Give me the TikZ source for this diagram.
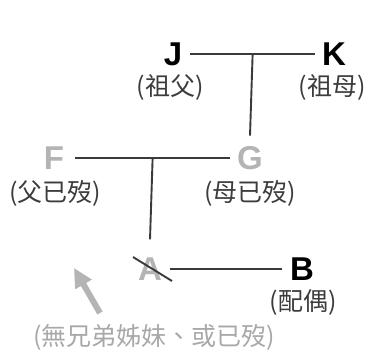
\documentclass[tikz,border=0pt]{standalone}
\usepackage{fontspec}
\setmainfont{Liberation Sans}
\newfontfamily\cjk{Noto Sans CJK TC}
\usepackage{tikz}
\usetikzlibrary{arrows.meta}
\definecolor{linegray}{HTML}{3A3A3A}
\definecolor{deadgray}{HTML}{B4B4B4}
\definecolor{notegray}{HTML}{A8A8A8}
\definecolor{labgray}{HTML}{3C3C3C}

\begin{document}
\begin{tikzpicture}[x=1pt, y=-1pt,
   person/.style = {inner sep=0pt, font=\fontsize{33}{33}\selectfont\bfseries},
   dead/.style = {person, text=deadgray},
   relname/.style = {inner sep=0pt, text=labgray, font=\fontsize{25}{25}\selectfont\cjk},
   kin/.style = {draw=linegray, line width=1.9pt}]
   \useasboundingbox (0,0) rectangle (369,350);
   % grandparents
   \node[person] (J) at (173,54) {J};
   \node[person] (K) at (334,54) {K};
   \node[relname] (Jlab) at (170,87) {(祖父)};
   \node[relname] (Klab) at (332,87) {(祖母)};
   % parents
   \node[dead] (F) at (54,158) {F};
   \node[dead] (G) at (250,158) {G};
   \node[relname] (Flab) at (55,193) {(父已歿)};
   \node[relname] (Glab) at (250,193) {(母已歿)};
   % self and spouse
   \node[dead] (A) at (150,269) {A};
   \node[person] (B) at (302,269) {B};
   \node[relname] (Blab) at (303,302) {(配偶)};
   \node[relname, text=notegray] (note) at (154,337) {(無兄弟姊妹、或已歿)};
   \coordinate (tail) at (100,313);
   \coordinate (tip) at (74,268);

   \draw[kin] ([xshift=8pt]J.east) -- coordinate (JK) ([xshift=-7pt]K.west);
   \draw[kin] (JK) -- ([yshift=10.5pt]G.north);
   \draw[kin] ([xshift=11pt]F.east) -- coordinate (FG) ([xshift=-7pt]G.west);
   \draw[kin] (FG) -- ([yshift=18pt]A.north);
   \draw[kin] ([xshift=8pt]A.east) -- ([xshift=-8pt]B.west);
   \draw[kin] ([shift={(-17,-12)}]A.center) -- ([shift={(22,12)}]A.center);
   \draw[draw=deadgray, line width=6pt, -{Triangle[length=19pt, width=18pt]}] (tail) -- (tip);
\end{tikzpicture}
\end{document}
